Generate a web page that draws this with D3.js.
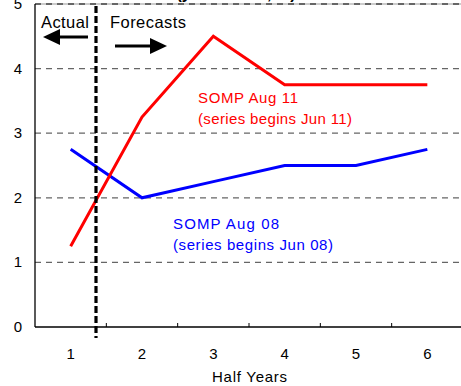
<!DOCTYPE html>
<html><head><meta charset="utf-8">
<script src="https://cdn.jsdelivr.net/npm/d3@7"></script>
<style>body{margin:0;background:#fff;}svg{display:block;font-family:"Liberation Sans",Arial,sans-serif;}</style>
</head><body>
<svg id="c" width="461" height="386"></svg>
<script>
const categories = [1, 2, 3, 4, 5, 6];
const somp11 = [1.25, 3.25, 4.5, 3.75, 3.75, 3.75];
const somp08 = [2.75, 2.0, 2.25, 2.5, 2.5, 2.75];
const yTicks = [0, 1, 2, 3, 4, 5];

const svg = d3.select("#c");
const x = d3.scaleBand().domain(categories).range([35, 463]);
const y = d3.scaleLinear().domain([0, 5]).range([327, 4]);

// title (cut off at top in the original)
svg.append("text").attr("x", 236).attr("y", -1).attr("text-anchor", "middle")
  .attr("font-size", 16).attr("font-weight", "bold").text("(year-ended, %)");

// gridlines
svg.append("g").selectAll("line").data(yTicks.filter(d => d > 0 && d < 5)).join("line")
  .attr("x1", 35).attr("x2", 463).attr("y1", d => y(d)).attr("y2", d => y(d))
  .attr("stroke", "#666").attr("stroke-width", 1.3).attr("stroke-dasharray", "6,5");
// top border
svg.append("line").attr("x1", 35).attr("x2", 463).attr("y1", y(5)).attr("y2", y(5))
  .attr("stroke", "#999").attr("stroke-width", 1.2);
svg.append("line").attr("x1", 35).attr("x2", 463).attr("y1", y(5)).attr("y2", y(5))
  .attr("stroke", "#000").attr("stroke-width", 1.2).attr("stroke-dasharray", "6,5");

// y axis
svg.append("line").attr("x1", 35).attr("x2", 35).attr("y1", y(5)).attr("y2", y(0))
  .attr("stroke", "#000").attr("stroke-width", 1.3);
svg.append("g").selectAll("text").data(yTicks).join("text")
  .attr("x", 22).attr("y", d => y(d) + 5).attr("text-anchor", "end")
  .attr("font-size", 15).text(d => d);

// x axis
const xAxis = d3.axisBottom(x).tickSize(0).tickPadding(0);
const gx = svg.append("g").attr("transform", `translate(0,${y(0)})`).call(xAxis);
gx.select(".domain").remove();
gx.selectAll("text").attr("font-size", 15).attr("font-family", "Liberation Sans, Arial, sans-serif")
  .attr("dy", null).attr("y", 32).attr("fill", "#000");
svg.append("line").attr("x1", 35).attr("x2", 463).attr("y1", y(0)).attr("y2", y(0))
  .attr("stroke", "#000").attr("stroke-width", 1.5);
svg.append("g").selectAll("line").data(categories.slice(1)).join("line")
  .attr("x1", d => x(d)).attr("x2", d => x(d)).attr("y1", y(0)).attr("y2", y(0) - 4)
  .attr("stroke", "#000").attr("stroke-width", 1);
svg.append("text").attr("x", 212).attr("y", 382)
  .attr("font-size", 15).attr("textLength", 75).attr("lengthAdjust", "spacing").text("Half Years");

// series
const line = d3.line().x((d, i) => x(categories[i]) + x.bandwidth() / 2).y(d => y(d));
svg.append("path").datum(somp08).attr("d", line).attr("fill", "none")
  .attr("stroke", "#0000ff").attr("stroke-width", 3);
svg.append("path").datum(somp11).attr("d", line).attr("fill", "none")
  .attr("stroke", "#ff0000").attr("stroke-width", 3);

// vertical divider
svg.append("line").attr("x1", 96).attr("x2", 96).attr("y1", 6).attr("y2", 338)
  .attr("stroke", "#000").attr("stroke-width", 3.2).attr("stroke-dasharray", "7,3");

// Actual / Forecasts
svg.append("text").attr("x", 41).attr("y", 28).attr("font-size", 16.5)
  .attr("textLength", 48).attr("lengthAdjust", "spacing").text("Actual");
svg.append("text").attr("x", 110).attr("y", 28).attr("font-size", 16.5)
  .attr("textLength", 76).attr("lengthAdjust", "spacing").text("Forecasts");
svg.append("line").attr("x1", 58).attr("x2", 88).attr("y1", 37).attr("y2", 37)
  .attr("stroke", "#000").attr("stroke-width", 3);
svg.append("path").attr("d", "M43,37 L60,29 L60,45 Z").attr("fill", "#000");
svg.append("line").attr("x1", 115).attr("x2", 152).attr("y1", 46).attr("y2", 46)
  .attr("stroke", "#000").attr("stroke-width", 3);
svg.append("path").attr("d", "M167,46 L150,38 L150,54 Z").attr("fill", "#000");

// series labels
function lab(t, xx, yy, w, c) {
  svg.append("text").attr("x", xx).attr("y", yy).attr("font-size", 15).attr("fill", c)
    .attr("textLength", w).attr("lengthAdjust", "spacing").text(t);
}
lab("SOMP Aug 11", 198, 103, 100, "#ff0000");
lab("(series begins Jun 11)", 198, 124, 154, "#ff0000");
lab("SOMP Aug 08", 173, 229, 106, "#0000ff");
lab("(series begins Jun 08)", 173, 250, 160, "#0000ff");
</script>
</body></html>
